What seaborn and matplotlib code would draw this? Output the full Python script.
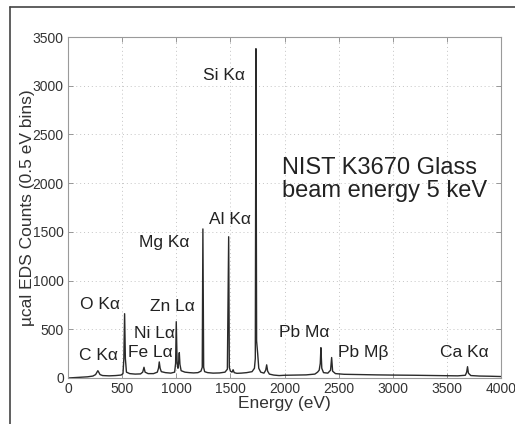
import matplotlib
matplotlib.use("Agg")
import matplotlib.pyplot as plt
from matplotlib.lines import Line2D
import seaborn as sns
import pandas as pd

# Spectrum trace: energy (eV) and counts per 0.5 eV bin
energy = [0, 60, 120, 180, 230, 255, 268, 276, 284, 296, 320, 380, 440, 490,
          508, 516, 523, 530, 540, 570, 620, 670, 690, 702, 712, 740, 790,
          825, 836, 843, 851, 862, 900, 950, 985, 994, 1000, 1008, 1016, 1023,
          1028, 1034, 1045, 1080, 1120, 1160, 1200, 1228, 1240, 1246, 1253,
          1262, 1290, 1340, 1400, 1450, 1472, 1484, 1490, 1500, 1515, 1525,
          1535, 1560, 1600, 1650, 1700, 1722, 1730, 1736, 1742, 1752, 1762,
          1780, 1810, 1826, 1835, 1844, 1860, 1900, 1950, 2000, 2100, 2200,
          2280, 2305, 2320, 2330, 2336, 2344, 2360, 2400, 2425, 2435, 2444,
          2470, 2550, 2700, 2850, 3000, 3200, 3400, 3600, 3670, 3682, 3690,
          3698, 3720, 3800, 3900, 4000]
counts = [0, 4, 8, 12, 20, 35, 60, 75, 60, 35, 25, 22, 25, 30,
          45, 200, 660, 200, 60, 45, 40, 42, 60, 110, 60, 45, 45,
          60, 100, 165, 100, 65, 55, 50, 60, 150, 578, 150, 100, 180,
          260, 140, 75, 60, 55, 52, 55, 70, 110, 1530, 110,
          65, 55, 50, 52, 60, 90, 1450, 110, 70, 60, 85,
          55, 48, 50, 55, 65, 100, 200, 3380, 380, 250, 100,
          60, 50, 80, 135, 70, 40, 30, 25, 28, 30, 32,
          40, 60, 80, 150, 311, 100, 55, 50, 80, 210, 70,
          45, 38, 35, 32, 30, 28, 25, 22, 28, 60, 116,
          50, 25, 20, 18, 15]

# Line labels and where they sit (eV, counts)
line_labels = ["Si Kα", "Al Kα", "Mg Kα", "O Kα", "Zn Lα", "Ni Lα", "Fe Lα",
               "C Kα", "Pb Mα", "Pb Mβ", "Ca Kα"]
label_x = [1445, 1500, 891, 300, 965, 799, 757, 286, 2179, 2724, 3657]
label_y = [3104, 1622, 1386, 750, 732, 459, 260, 226, 465, 260, 260]

title_lines = ["NIST K3670 Glass", "beam energy 5 keV"]

x_ticks = [0, 500, 1000, 1500, 2000, 2500, 3000, 3500, 4000]
y_ticks = [0, 500, 1000, 1500, 2000, 2500, 3000, 3500]

sns.set_theme(style="white")
plt.rcParams["font.family"] = ["Liberation Sans", "DejaVu Sans"]
plt.rcParams["text.color"] = "#222222"

fig = plt.figure(figsize=(5.15, 4.24), dpi=100)
ax = fig.add_axes([0.132, 0.1085, 0.841, 0.8042])

df = pd.DataFrame({"Energy (eV)": energy, "Counts": counts})
sns.lineplot(data=df, x="Energy (eV)", y="Counts", ax=ax, color="#2a2a2a",
             linewidth=1.0, sort=False)

ax.set_xlim(0, 4000)
ax.set_ylim(0, 3500)
ax.set_xticks(x_ticks)
ax.set_yticks(y_ticks)
ax.grid(True, color="#c4c4c4", linestyle=(0, (1, 3)), linewidth=0.7)
ax.tick_params(direction="in", length=3.5, width=0.6, color="#888888",
               labelsize=10, labelcolor="#333333", pad=3,
               top=True, right=True, bottom=True, left=True)
for s in ax.spines.values():
    s.set_color("#9a9a9a")
    s.set_linewidth(0.8)

ax.set_xlabel("Energy (eV)", fontsize=12.5, color="#333333", labelpad=0)
ax.set_ylabel("µcal EDS Counts (0.5 eV bins)", fontsize=12.5,
              color="#333333", labelpad=-2)

for txt, xx, yy in zip(line_labels, label_x, label_y):
    ax.text(xx, yy, txt, fontsize=12.5, ha="center", va="center",
            color="#222222")

ax.text(1973, 2156, title_lines[0], fontsize=17, ha="left", va="center",
        color="#222222")
ax.text(1973, 1915, title_lines[1], fontsize=17, ha="left", va="center",
        color="#222222")

# Outer frame (top and left edges)
W, H = 515, 424
fig.add_artist(Line2D([10 / W, 1.0], [1 - 7 / H, 1 - 7 / H],
                      transform=fig.transFigure, color="#444444", lw=1.2))
fig.add_artist(Line2D([10 / W, 10 / W], [1 - 7 / H, 0.0],
                      transform=fig.transFigure, color="#444444", lw=1.2))

fig.savefig("out.png", dpi=100)
